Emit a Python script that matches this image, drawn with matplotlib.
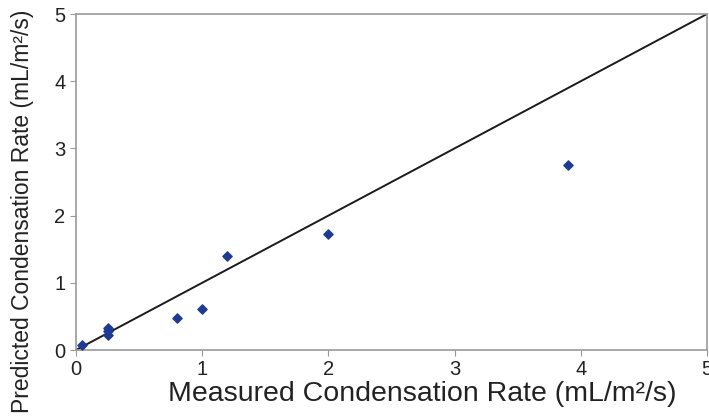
import matplotlib
matplotlib.use("Agg")
import matplotlib.pyplot as plt

plt.rcParams['font.family'] = ['Liberation Sans', 'DejaVu Sans']

measured = [0.05, 0.25, 0.25, 0.25, 0.8, 1.0, 1.2, 2.0, 3.9]
predicted = [0.08, 0.33, 0.28, 0.23, 0.48, 0.61, 1.40, 1.73, 2.75]
line_x = [0, 5]
line_y = [0, 5]
ticks = [0, 1, 2, 3, 4, 5]

fig = plt.figure(figsize=(7.09, 4.17), dpi=100)
ax = fig.add_axes([76/709, (417-350)/417, (707-76)/709, (350-14)/417])
ax.plot(line_x, line_y, color="#1a1a1a", lw=1.4)
ax.scatter(measured, predicted, marker="D", s=22, color="#1f3a93", zorder=3)
ax.set_xlim(0, 5)
ax.set_ylim(0, 5)
ax.set_xticks(ticks)
ax.set_yticks(ticks)
for s in ax.spines.values():
    s.set_color("#999999")
    s.set_linewidth(1.2)
ax.tick_params(direction="out", length=4, color="#999999", labelsize=14.5, labelcolor="#222222")
ax.set_xlabel("Measured Condensation Rate (mL/m²/s)", fontsize=20.5, color="#222222")
ax.set_ylabel("Predicted Condensation Rate (mL/m²/s)", fontsize=16.5, color="#222222")
ax.xaxis.set_label_coords(0.548, -0.093)
ax.yaxis.set_label_coords(-0.066, 0.414)
fig.savefig("out.png", dpi=100)
